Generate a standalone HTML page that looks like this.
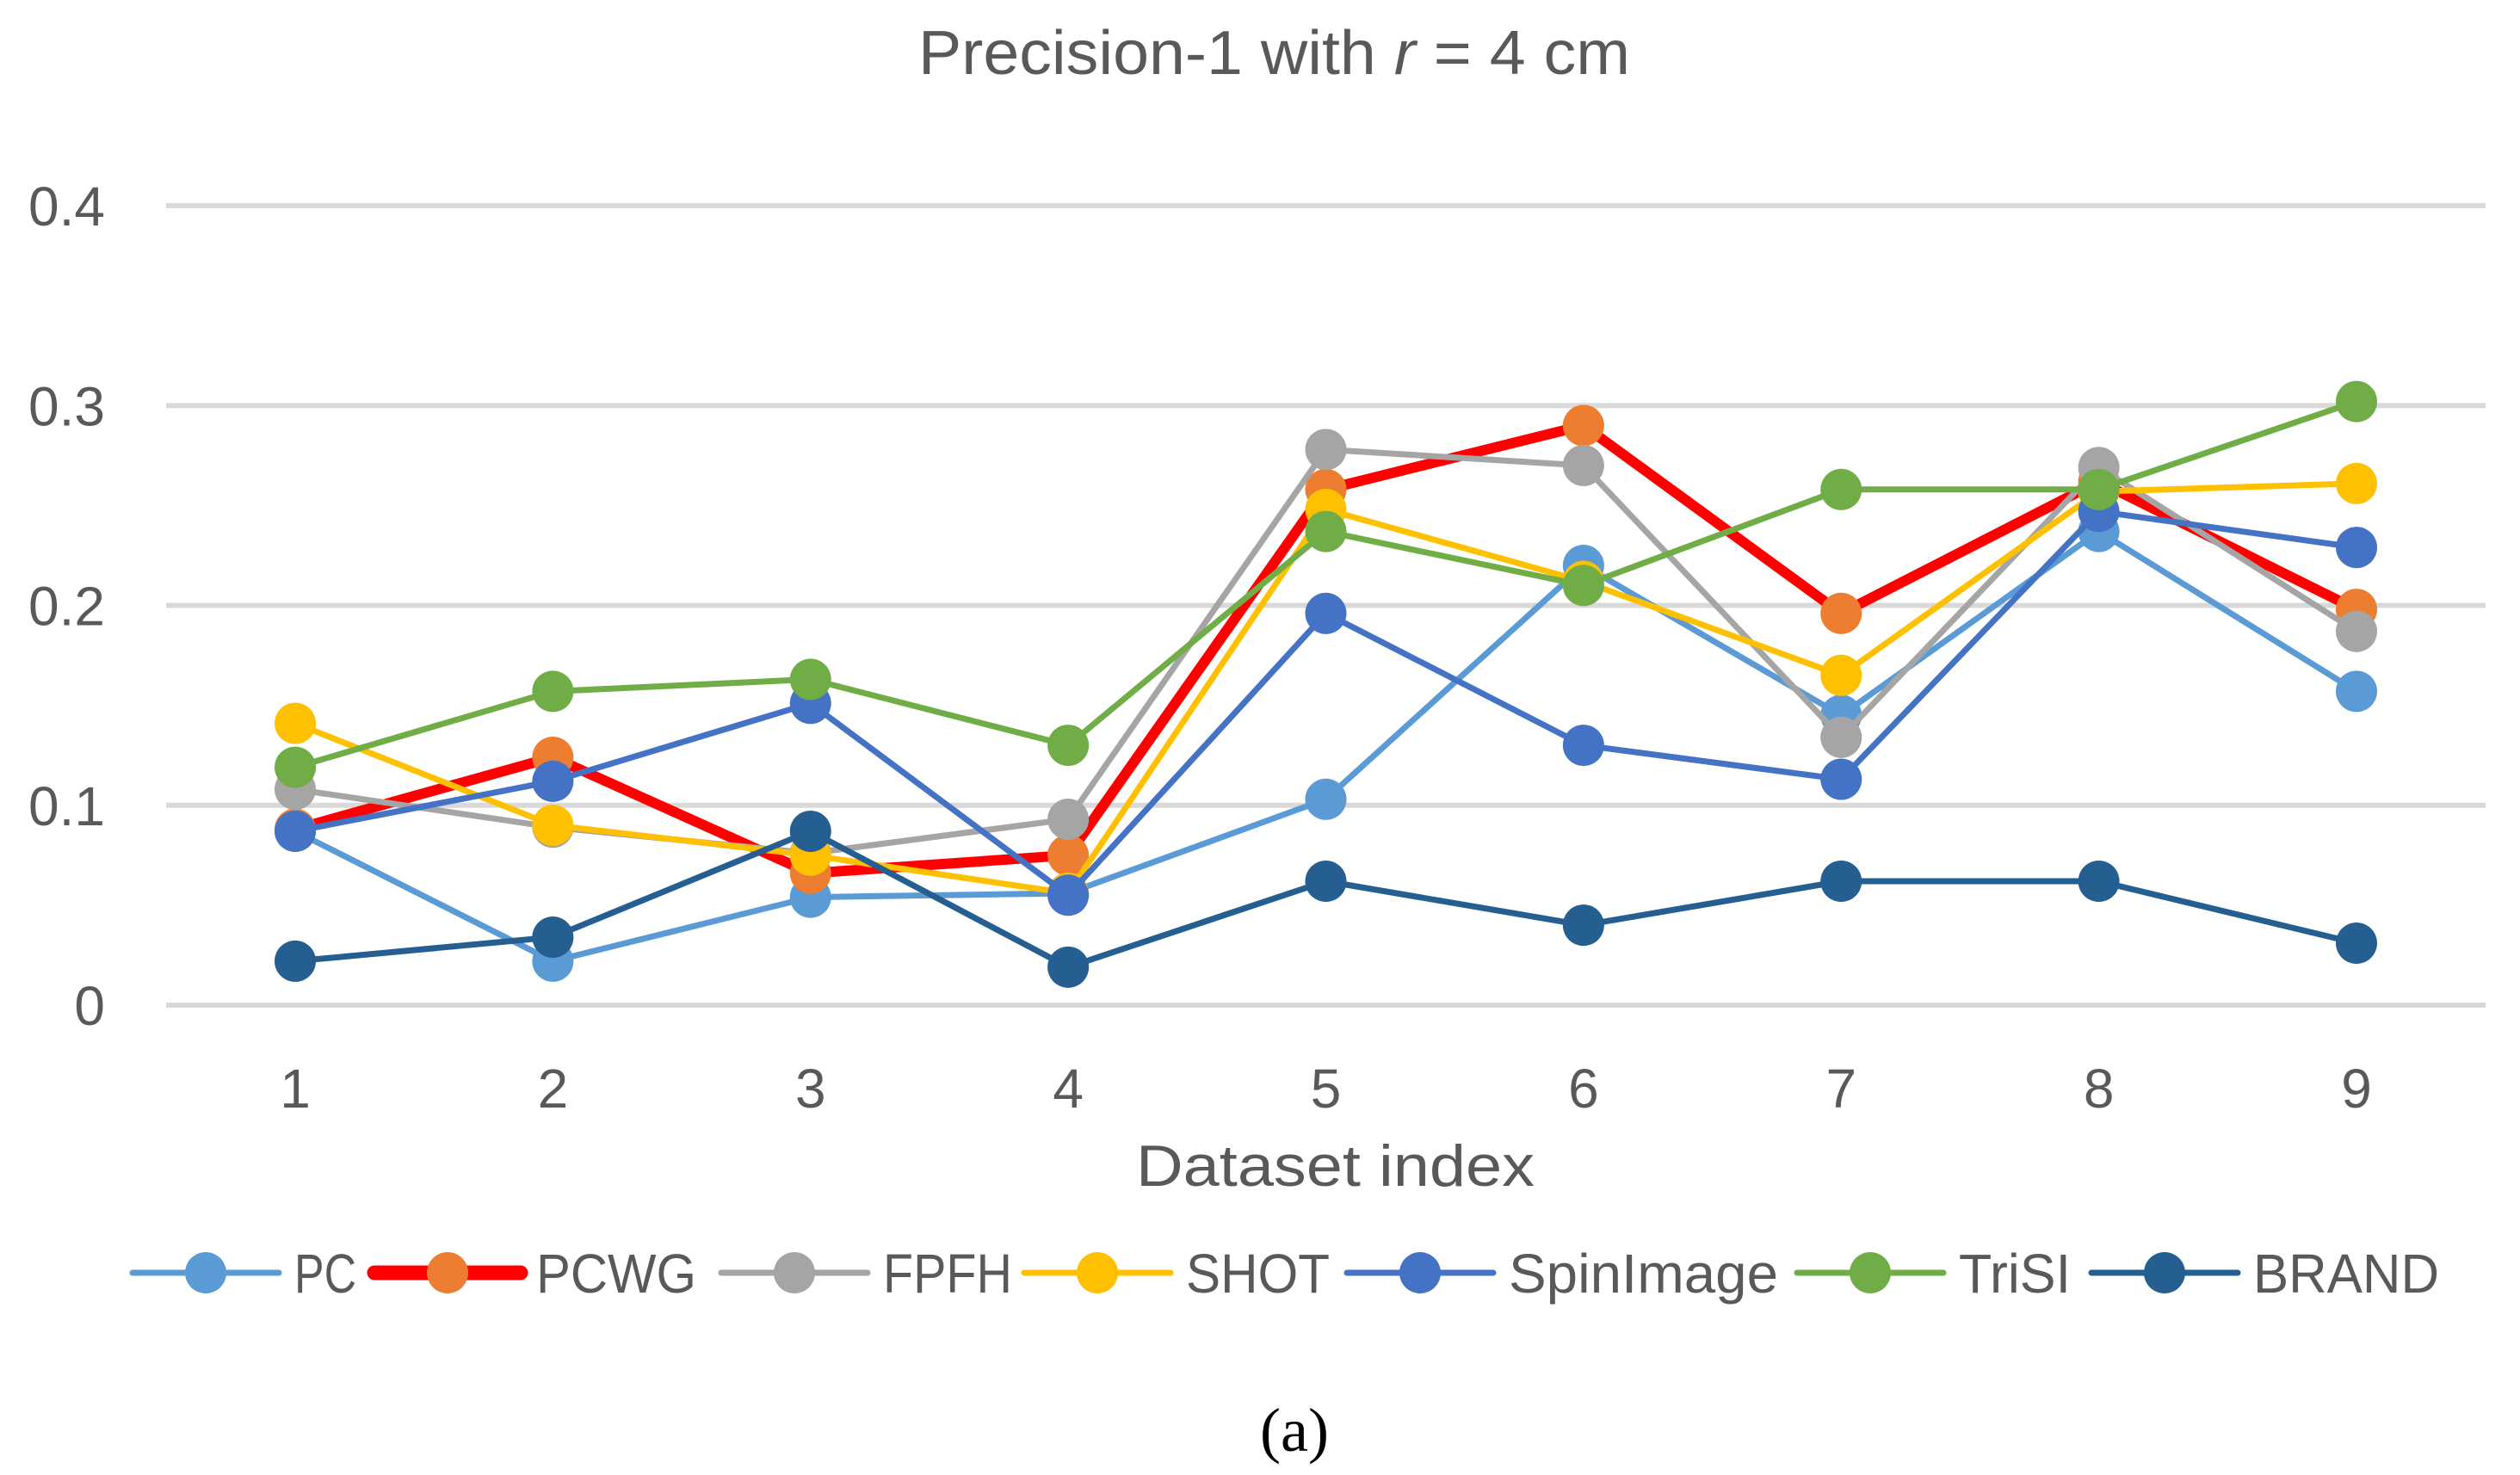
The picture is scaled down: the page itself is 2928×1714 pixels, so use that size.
<!DOCTYPE html>
<html><head><meta charset="utf-8"><style>
html,body{margin:0;padding:0;background:#fff;}
svg{display:block;font-family:"Liberation Sans",sans-serif;}
</style></head><body>
<svg id="chart" width="2928" height="1714" viewBox="0 0 2928 1714">
<text x="1067" y="86" font-size="72" fill="#595959" textLength="827" lengthAdjust="spacingAndGlyphs">Precision-1 with <tspan font-style="italic">r</tspan> = 4 cm</text>
<g id="grid"></g><g id="series"></g><g id="legend"></g>
<text x="1320" y="1378" font-size="68" fill="#595959" textLength="463" lengthAdjust="spacingAndGlyphs">Dataset index</text>
<text x="1504" y="1686" font-size="72" fill="#000" text-anchor="middle" font-family="Liberation Serif, serif">(a)</text>
</svg>
<script>
const categories=[1,2,3,4,5,6,7,8,9];
const yTicks=[0,0.1,0.2,0.3,0.4];
const yTickLabels=["0","0.1","0.2","0.3","0.4"];
const seriesNames=["PC","PCWG","FPFH","SHOT","SpinImage","TriSI","BRAND"];
const pcValues=[0.087,0.022,0.054,0.056,0.103,0.220,0.145,0.237,0.157];
const pcwgValues=[0.088,0.124,0.066,0.075,0.258,0.290,0.196,0.262,0.198];
const fpfhValues=[0.108,0.089,0.076,0.093,0.278,0.270,0.134,0.269,0.187];
const shotValues=[0.141,0.090,0.075,0.056,0.248,0.212,0.165,0.257,0.261];
const spinValues=[0.087,0.112,0.151,0.055,0.196,0.130,0.113,0.247,0.229];
const trisiValues=[0.119,0.157,0.163,0.130,0.237,0.210,0.258,0.258,0.302];
const brandValues=[0.022,0.034,0.087,0.019,0.062,0.040,0.062,0.062,0.031];
const allValues=[pcValues,pcwgValues,fpfhValues,shotValues,spinValues,trisiValues,brandValues];
const lineColors=["#5B9BD5","#FF0000","#A5A5A5","#FFC000","#4472C4","#70AD47","#255E91"];
const markerColors=["#5B9BD5","#ED7D31","#A5A5A5","#FFC000","#4472C4","#70AD47","#255E91"];
const lineWidths=[7,17,7,7,7,7,7];
const NS="http://www.w3.org/2000/svg";
const x=i=>343+(i)*(2738-343)/(categories.length-1);
const y=v=>1168-v*(1168-239)/0.4;
function mk(t,a,p){const e=document.createElementNS(NS,t);for(const k in a)e.setAttribute(k,a[k]);p.appendChild(e);return e;}
const grid=document.getElementById('grid');
yTicks.forEach((t,i)=>{
 const l=mk('line',{x1:193,x2:2888,y1:y(t),y2:y(t),stroke:'#D9D9D9','stroke-width':6},grid);
 
 
 const tx=mk('text',{x:122,y:y(t)+23,'font-size':64,fill:'#595959','text-anchor':'end'},grid);
 tx.textContent=yTickLabels[i];
 
 
});
categories.forEach((c,i)=>{
 const tx=mk('text',{x:x(i),y:1287,'font-size':64,fill:'#595959','text-anchor':'middle'},grid);
 tx.textContent=c;
 
 
});
const sg=document.getElementById('series');
allValues.forEach((vals,s)=>{
 const g=mk('g',{},sg);
 
 
 const pl=mk('polyline',{points:vals.map((v,i)=>x(i)+','+y(v)).join(' '),fill:'none',stroke:lineColors[s],'stroke-width':lineWidths[s]==17?12:lineWidths[s],'stroke-linejoin':'round'},g);
 
 
 vals.forEach((v,i)=>{
  const c=mk('circle',{cx:x(i),cy:y(v),r:24,fill:markerColors[s]},g);
  
  
 });
});
const legendLineX=[154,435,838,1190,1565,2088,2430];
const legendTextW=[72,186,150,167,313,130,216];
const lg=document.getElementById('legend');
seriesNames.forEach((n,s)=>{
 const g=mk('g',{},lg);
 
 
 const lx=legendLineX[s];
 mk('line',{x1:lx,x2:lx+170,y1:1479,y2:1479,stroke:lineColors[s],'stroke-width':lineWidths[s],'stroke-linecap':'round'},g);
 mk('circle',{cx:lx+85,cy:1479,r:24,fill:markerColors[s]},g);
 const t=mk('text',{x:lx+188,y:1502,'font-size':64,fill:'#595959',textLength:legendTextW[s],lengthAdjust:'spacingAndGlyphs'},g);
 t.textContent=n;
});
</script>
</body></html>
